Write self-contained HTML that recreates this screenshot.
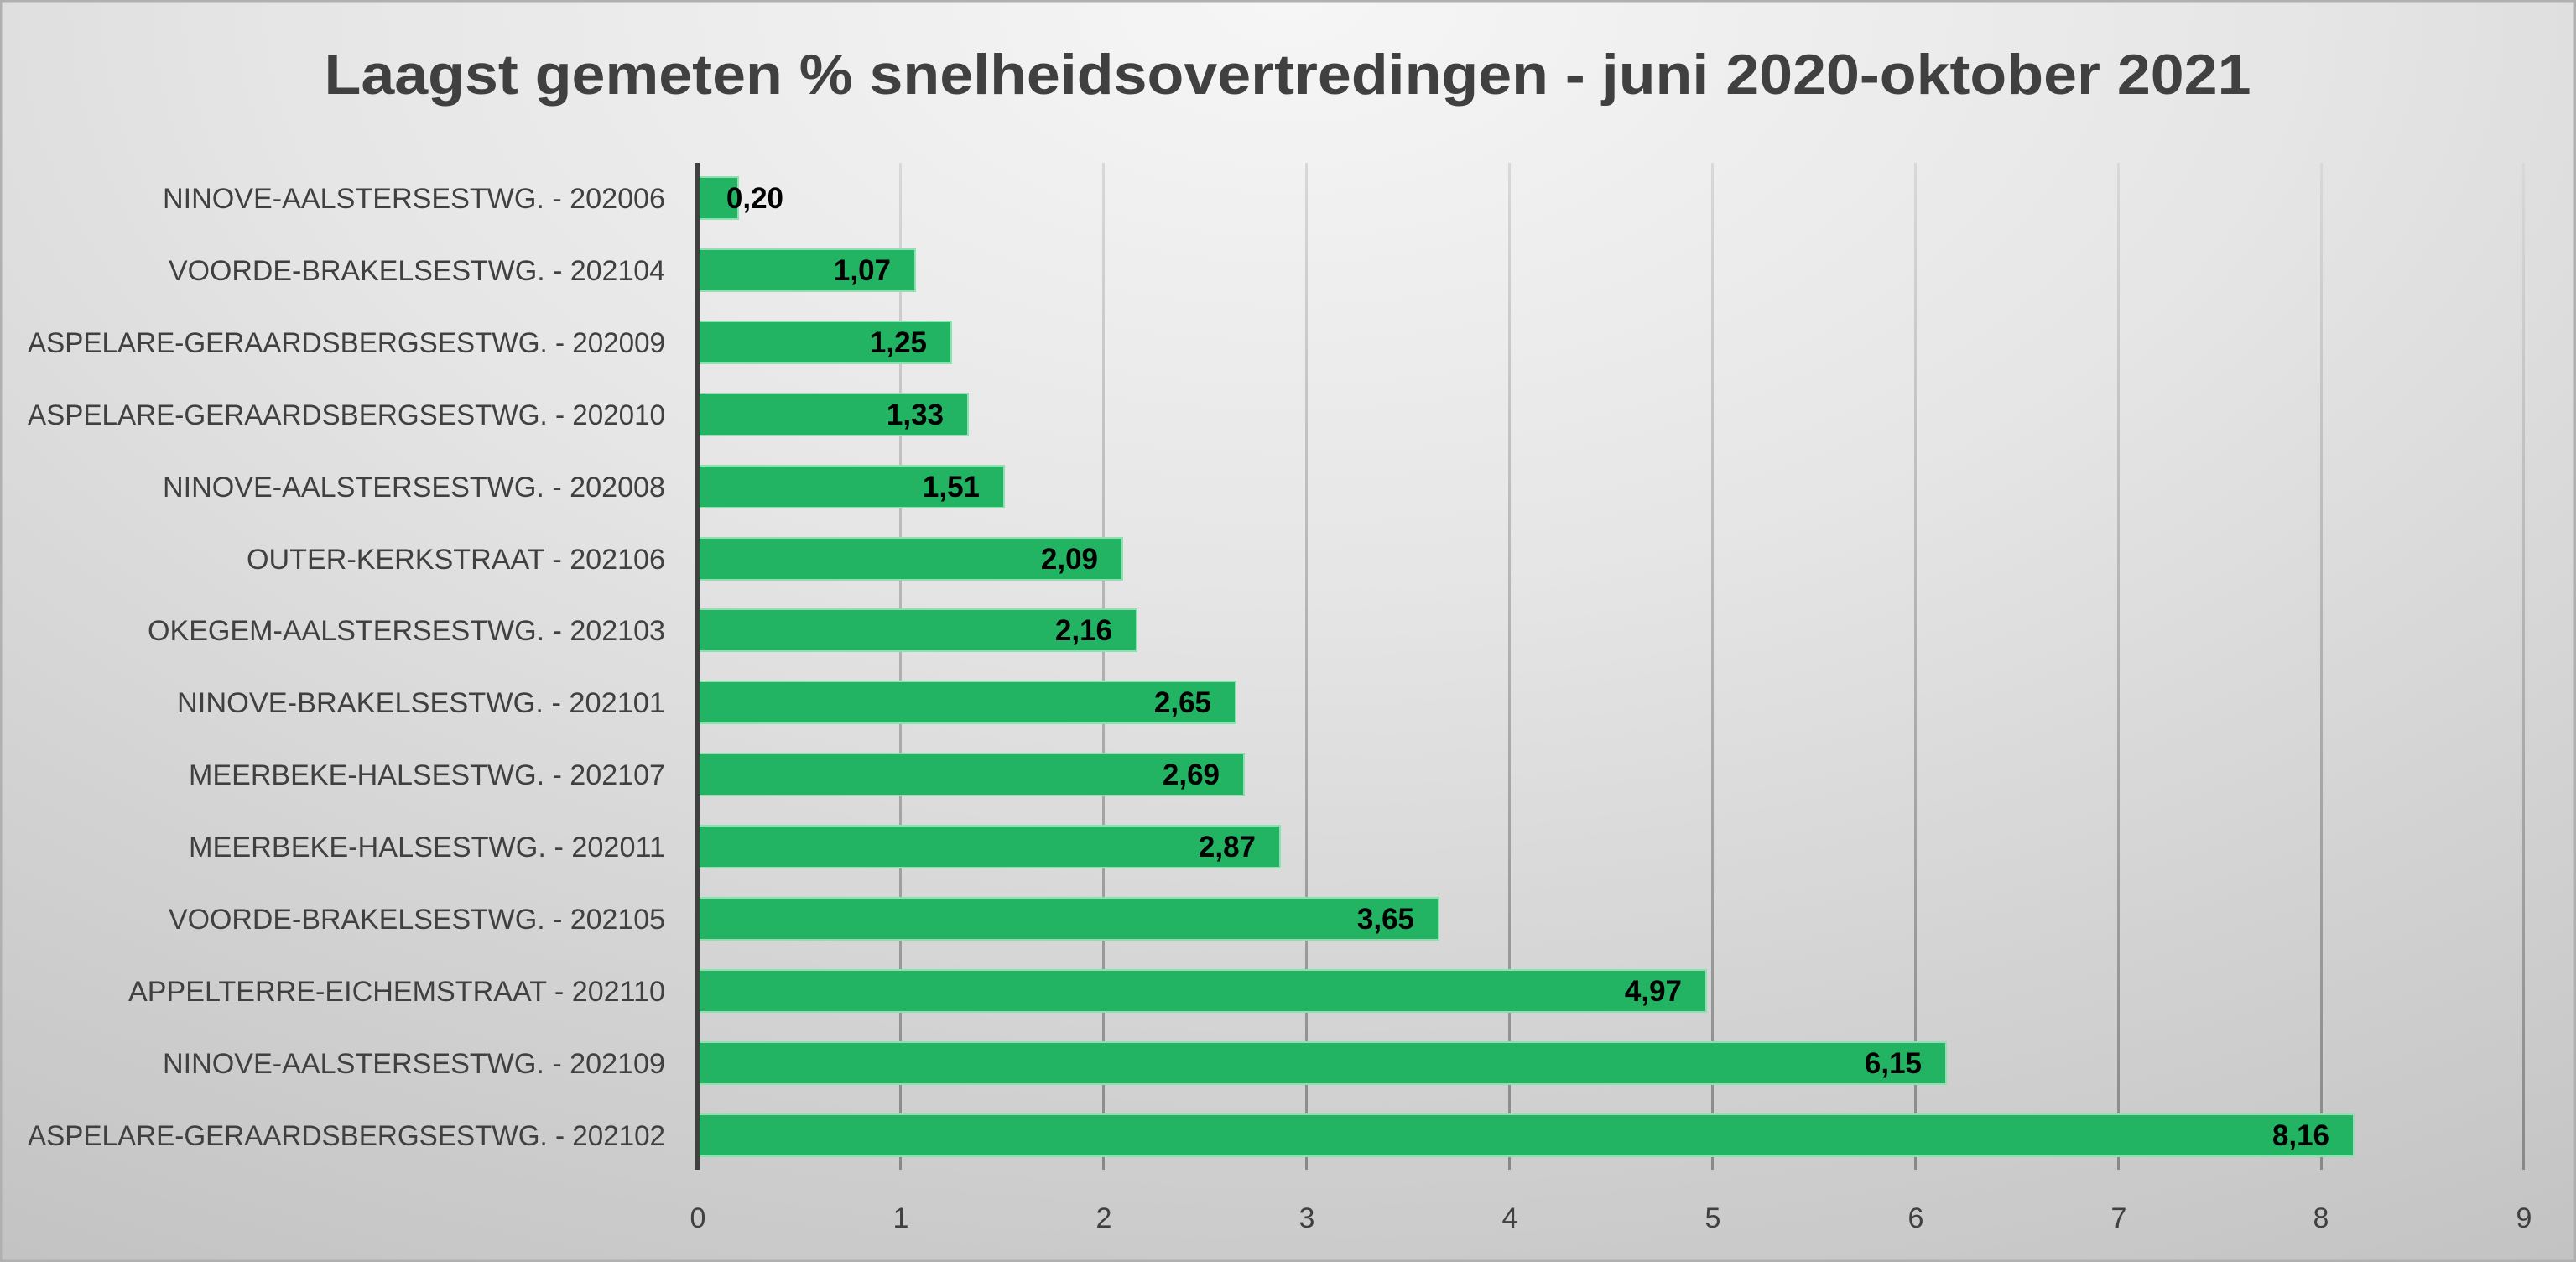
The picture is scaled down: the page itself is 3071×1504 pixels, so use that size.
<!DOCTYPE html>
<html><head><meta charset="utf-8"><style>
html,body{margin:0;padding:0;width:3071px;height:1504px;overflow:hidden}
body{background:radial-gradient(ellipse 110% 130% at 50% 0%,#f6f6f6 0%,#e6e6e6 35%,#d2d2d2 65%,#bcbcbc 100%);}
svg{position:absolute;left:0;top:0}
text{font-family:"Liberation Sans",sans-serif}
</style></head><body>
<svg width="3071" height="1504" viewBox="0 0 3071 1504">
<defs><linearGradient id="g" x1="0" y1="0" x2="0" y2="1"><stop offset="0" stop-color="#d8d8d8"/><stop offset="1" stop-color="#888888"/></linearGradient></defs>
<rect x="1" y="1" width="3069" height="1502" fill="none" stroke="#b0b0b0" stroke-width="3"/>
<text x="1535" y="112" text-anchor="middle" font-size="68" font-weight="bold" fill="#404040" textLength="2297" lengthAdjust="spacingAndGlyphs">Laagst gemeten % snelheidsovertredingen - juni 2020-oktober 2021</text>
<g fill="url(#g)">
<rect x="1072" y="194" width="3" height="1200"/><rect x="1314" y="194" width="3" height="1200"/><rect x="1556" y="194" width="3" height="1200"/><rect x="1798" y="194" width="3" height="1200"/><rect x="2040" y="194" width="3" height="1200"/><rect x="2282" y="194" width="3" height="1200"/><rect x="2524" y="194" width="3" height="1200"/><rect x="2766" y="194" width="3" height="1200"/><rect x="3007" y="194" width="3" height="1200"/>
</g>
<g fill="#22b463" stroke="#8fe0b0" stroke-width="2">
<rect x="832" y="211" width="48" height="50"/>
<rect x="832" y="297" width="259" height="50"/>
<rect x="832" y="383" width="302" height="50"/>
<rect x="832" y="469" width="322" height="50"/>
<rect x="832" y="555" width="365" height="50"/>
<rect x="832" y="641" width="506" height="50"/>
<rect x="832" y="726" width="523" height="50"/>
<rect x="832" y="812" width="641" height="50"/>
<rect x="832" y="898" width="651" height="50"/>
<rect x="832" y="984" width="694" height="50"/>
<rect x="832" y="1070" width="883" height="50"/>
<rect x="832" y="1156" width="1202" height="50"/>
<rect x="832" y="1242" width="1488" height="50"/>
<rect x="832" y="1328" width="1974" height="50"/>
</g>
<rect x="828" y="194" width="6" height="1200" fill="#404040"/>
<g font-size="35" font-weight="bold" fill="#000" text-anchor="end">
<text x="934" y="248">0,20</text>
<text x="1062" y="334">1,07</text>
<text x="1105" y="420">1,25</text>
<text x="1125" y="506">1,33</text>
<text x="1168" y="592">1,51</text>
<text x="1309" y="678">2,09</text>
<text x="1326" y="763">2,16</text>
<text x="1444" y="849">2,65</text>
<text x="1454" y="935">2,69</text>
<text x="1497" y="1021">2,87</text>
<text x="1686" y="1107">3,65</text>
<text x="2005" y="1193">4,97</text>
<text x="2291" y="1279">6,15</text>
<text x="2777" y="1365">8,16</text>
</g>
<g font-size="34" fill="#404040" text-anchor="end">
<text x="793" y="248" textLength="599" lengthAdjust="spacingAndGlyphs">NINOVE-AALSTERSESTWG. - 202006</text>
<text x="793" y="334" textLength="592" lengthAdjust="spacingAndGlyphs">VOORDE-BRAKELSESTWG. - 202104</text>
<text x="793" y="420" textLength="760" lengthAdjust="spacingAndGlyphs">ASPELARE-GERAARDSBERGSESTWG. - 202009</text>
<text x="793" y="506" textLength="760" lengthAdjust="spacingAndGlyphs">ASPELARE-GERAARDSBERGSESTWG. - 202010</text>
<text x="793" y="592" textLength="599" lengthAdjust="spacingAndGlyphs">NINOVE-AALSTERSESTWG. - 202008</text>
<text x="793" y="678" textLength="499" lengthAdjust="spacingAndGlyphs">OUTER-KERKSTRAAT - 202106</text>
<text x="793" y="763" textLength="617" lengthAdjust="spacingAndGlyphs">OKEGEM-AALSTERSESTWG. - 202103</text>
<text x="793" y="849" textLength="582" lengthAdjust="spacingAndGlyphs">NINOVE-BRAKELSESTWG. - 202101</text>
<text x="793" y="935" textLength="568" lengthAdjust="spacingAndGlyphs">MEERBEKE-HALSESTWG. - 202107</text>
<text x="793" y="1021" textLength="568" lengthAdjust="spacingAndGlyphs">MEERBEKE-HALSESTWG. - 202011</text>
<text x="793" y="1107" textLength="592" lengthAdjust="spacingAndGlyphs">VOORDE-BRAKELSESTWG. - 202105</text>
<text x="793" y="1193" textLength="640" lengthAdjust="spacingAndGlyphs">APPELTERRE-EICHEMSTRAAT - 202110</text>
<text x="793" y="1279" textLength="599" lengthAdjust="spacingAndGlyphs">NINOVE-AALSTERSESTWG. - 202109</text>
<text x="793" y="1365" textLength="760" lengthAdjust="spacingAndGlyphs">ASPELARE-GERAARDSBERGSESTWG. - 202102</text>
</g>
<g font-size="34" fill="#404040" text-anchor="middle">
<text x="832" y="1463">0</text><text x="1074" y="1463">1</text><text x="1316" y="1463">2</text><text x="1558" y="1463">3</text><text x="1800" y="1463">4</text><text x="2042" y="1463">5</text><text x="2284" y="1463">6</text><text x="2526" y="1463">7</text><text x="2767" y="1463">8</text><text x="3009" y="1463">9</text>
</g>
</svg>
</body></html>
